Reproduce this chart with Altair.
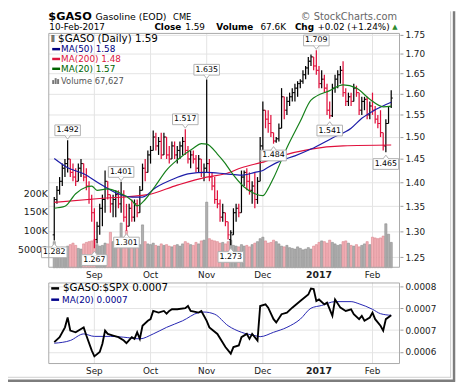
import altair as alt
import pandas as pd

# ---------------- data ----------------
HOLIDAYS = ["2016-09-05", "2016-11-24", "2016-12-26", "2017-01-02", "2017-01-16"]
DATES = [d for d in pd.bdate_range("2016-08-11", "2017-02-10")
         if d.strftime("%Y-%m-%d") not in HOLIDAYS]

OPEN = [1.293,1.364,1.383,1.402,1.430,1.440,1.450,1.421,1.411,1.402,
        1.430,1.440,1.411,1.392,1.364,1.337,1.284,1.310,1.346,1.364,
        1.402,1.374,1.355,1.364,1.374,1.355,1.374,1.328,1.310,1.346,
        1.328,1.355,1.337,1.383,1.430,1.421,1.459,1.469,1.499,1.479,
        1.489,1.459,1.499,1.459,1.450,1.479,1.459,1.469,1.479,1.489,
        1.469,1.450,1.459,1.450,1.430,1.450,1.421,1.430,1.440,1.411,
        1.392,1.364,1.355,1.328,1.337,1.319,1.284,1.293,1.337,1.346,
        1.337,1.411,1.421,1.402,1.383,1.392,1.364,1.402,1.479,1.561,
        1.540,1.530,1.509,1.490,1.495,1.519,1.593,1.561,1.582,1.593,
        1.603,1.614,1.625,1.631,1.647,1.664,1.681,1.692,1.669,1.658,
        1.625,1.636,1.614,1.561,1.548,1.614,1.636,1.647,1.658,1.603,
        1.582,1.593,1.582,1.614,1.603,1.561,1.582,1.587,1.550,1.571,
        1.561,1.540,1.530,1.509,1.479,1.530,1.570]
HIGH = [1.369,1.392,1.411,1.440,1.450,1.492,1.450,1.440,1.430,1.440,
        1.450,1.440,1.430,1.402,1.374,1.346,1.319,1.355,1.374,1.425,
        1.402,1.374,1.374,1.383,1.383,1.401,1.383,1.355,1.355,1.364,
        1.364,1.364,1.392,1.440,1.450,1.469,1.479,1.514,1.509,1.499,
        1.509,1.509,1.499,1.479,1.489,1.489,1.479,1.489,1.499,1.517,
        1.479,1.469,1.469,1.459,1.459,1.450,1.440,1.635,1.450,1.421,
        1.411,1.383,1.364,1.355,1.337,1.319,1.302,1.346,1.355,1.355,
        1.425,1.425,1.430,1.421,1.402,1.421,1.411,1.499,1.582,1.561,
        1.561,1.550,1.509,1.499,1.530,1.614,1.593,1.593,1.603,1.614,
        1.625,1.631,1.636,1.658,1.669,1.692,1.698,1.692,1.709,1.669,
        1.658,1.647,1.625,1.582,1.625,1.647,1.658,1.669,1.681,1.614,
        1.603,1.603,1.625,1.620,1.603,1.593,1.593,1.593,1.582,1.603,
        1.571,1.550,1.561,1.509,1.540,1.571,1.609]
LOW = [1.282,1.355,1.374,1.392,1.411,1.421,1.411,1.402,1.392,1.402,
       1.411,1.402,1.383,1.355,1.319,1.267,1.276,1.293,1.310,1.337,
       1.364,1.337,1.328,1.328,1.346,1.337,1.319,1.301,1.310,1.319,
       1.319,1.328,1.337,1.383,1.402,1.421,1.440,1.469,1.469,1.459,
       1.450,1.459,1.450,1.440,1.450,1.450,1.440,1.450,1.459,1.459,
       1.440,1.430,1.440,1.421,1.421,1.411,1.402,1.421,1.402,1.383,
       1.355,1.346,1.319,1.319,1.310,1.284,1.273,1.293,1.319,1.328,
       1.337,1.392,1.383,1.374,1.355,1.346,1.355,1.402,1.469,1.519,
       1.509,1.499,1.484,1.486,1.489,1.519,1.540,1.550,1.571,1.582,
       1.582,1.593,1.614,1.625,1.636,1.647,1.669,1.658,1.647,1.614,
       1.614,1.603,1.550,1.541,1.545,1.603,1.614,1.625,1.593,1.571,
       1.571,1.571,1.582,1.593,1.550,1.550,1.561,1.540,1.540,1.550,
       1.530,1.519,1.499,1.469,1.465,1.530,1.566]
CLOSE = [1.364,1.383,1.402,1.430,1.440,1.450,1.421,1.411,1.402,1.430,
         1.440,1.411,1.392,1.364,1.337,1.284,1.310,1.346,1.364,1.402,
         1.374,1.355,1.364,1.374,1.355,1.374,1.328,1.310,1.346,1.328,
         1.355,1.337,1.383,1.430,1.421,1.459,1.469,1.499,1.479,1.489,
         1.459,1.499,1.459,1.450,1.479,1.459,1.469,1.479,1.489,1.469,
         1.450,1.459,1.450,1.430,1.450,1.421,1.430,1.440,1.411,1.392,
         1.364,1.355,1.328,1.337,1.319,1.293,1.297,1.337,1.346,1.337,
         1.411,1.421,1.402,1.383,1.392,1.364,1.402,1.479,1.561,1.540,
         1.530,1.509,1.490,1.495,1.519,1.593,1.561,1.582,1.593,1.603,
         1.614,1.625,1.631,1.647,1.664,1.681,1.692,1.669,1.658,1.625,
         1.636,1.614,1.561,1.548,1.614,1.636,1.647,1.658,1.603,1.582,
         1.593,1.582,1.614,1.603,1.561,1.582,1.587,1.550,1.571,1.561,
         1.540,1.530,1.509,1.479,1.530,1.570,1.590]
VOLUME_K = [70,52,48,55,50,58,62,66,60,52,50,64,68,70,72,
            75,62,58,60,66,64,95,70,78,72,120,80,100,60,58,55,60,62,115,70,64,
            62,66,60,58,64,60,62,58,56,60,62,58,64,70,66,62,60,68,64,72,74,
            176,
            78,74,72,70,66,68,64,70,74,60,58,56,62,58,60,56,62,66,70,78,
            82,72,66,68,74,70,64,58,56,60,54,52,50,56,52,48,50,54,50,58,62,
            68,72,70,66,74,68,64,60,62,70,72,66,60,58,62,56,60,64,70,62,82,80,78,80,85,118,90,68]

MA50_DAY = [0,5,11,17,23,29,33,38,45,50,57,64,70,75,78,80,85,90,96,104,111,115,120,126]
MA50_VAL = [1.451,1.431,1.418,1.397,1.378,1.369,1.369,1.389,1.408,1.418,1.421,1.418,
            1.415,1.421,1.425,1.432,1.447,1.457,1.472,1.497,1.519,1.542,1.562,1.580]
MA200_DAY = [0,17,35,46,57,64,70,79,85,96,108,126]
MA200_VAL = [1.358,1.366,1.374,1.394,1.411,1.418,1.431,1.445,1.457,1.472,1.479,1.481]
MA20_DAY = [0,4,8,12,14,16,20,24,29,31,34,38,42,46,52,55,57,61,64,66,71,75,78,80,82,
            87,92,96,103,108,113,118,123,126]
MA20_VAL = [1.346,1.350,1.376,1.390,1.392,1.383,1.386,1.379,1.362,1.351,1.364,1.394,1.426,
            1.448,1.474,1.484,1.483,1.461,1.440,1.423,1.390,1.376,1.372,1.387,1.409,
            1.475,1.535,1.585,1.608,1.622,1.614,1.587,1.569,1.570]

ANN_DAY = [0,5,15,25,27,49,57,66,82,98,103,124]
ANN_VAL = [1.282,1.492,1.267,1.401,1.301,1.517,1.635,1.273,1.484,1.709,1.541,1.465]
ANN_SIDE = ["low","high","low","high","low","high","high","low","low","high","low","low"]

RATIO_DAY = [0,2,4,5,6,8,10,11,12,14,15,17,18,19,20,22,24,26,27,29,30,31,32,33,35,36,37,39,
             41,42,43,44,46,49,50,51,54,55,57,58,61,64,66,67,69,70,72,73,74,76,77,79,80,82,
             83,85,87,89,92,95,96,97,98,99,101,102,104,105,107,109,111,112,114,115,116,118,
             119,120,122,123,124,126]
RATIO_E6 = [658,667,685,703,679,676,682,685,670,643,632,640,655,679,673,670,667,661,656,667,
            664,676,664,688,697,700,715,712,715,710,715,718,718,720,724,715,712,715,697,685,
            673,649,637,649,652,667,673,664,673,661,724,727,721,700,694,709,712,721,733,745,
            756,755,733,736,727,730,706,736,721,715,718,709,700,706,697,703,712,700,688,679,
            700,707]
RMA_DAY = [0,6,11,15,21,26,32,37,42,48,54,56,60,65,70,75,77,82,87,92,96,100,105,111,114,119,122,126]
RMA_E6 = [656,661,673,668.5,668.5,667,664,673,685,697,712,713,709,688,676,670,668,676,685,700,
          720,725,732,732,728,718,710,707]

PRICE_TICKS = [1.25,1.30,1.35,1.40,1.45,1.50,1.55,1.60,1.65,1.70,1.75]
VOL_TICKS = [50000,100000,150000,200000]
RATIO_TICKS = [0.00064,0.00068,0.00072,0.00076]

# ---------------- tables ----------------
RED = "#e0103c"
n = len(DATES)
up = [True] + [CLOSE[k] >= CLOSE[k - 1] for k in range(1, n)]
df = pd.DataFrame({"i": list(range(n)), "O": OPEN, "H": HIGH, "L": LOW, "C": CLOSE,
                   "vol": [v * 1000 for v in VOLUME_K]})
df["pc"] = ["#000000" if u else RED for u in up]
df["vf"] = ["#b0b0b0" if u else "#f3b2b8" for u in up]
df["vs"] = ["#8a8a8a" if u else "#d9838c" for u in up]

mi, ml, mb = [], [], []
for k in range(1, n):
    if DATES[k].month != DATES[k - 1].month:
        mi.append(k)
        ml.append(str(DATES[k].year) if DATES[k].month == 1 else DATES[k].strftime("%b"))
        mb.append(DATES[k].month == 1)
months = pd.DataFrame({"i": mi, "lab": ml, "bold": mb})

ma50 = pd.DataFrame({"i": MA50_DAY, "v": MA50_VAL})
ma200 = pd.DataFrame({"i": MA200_DAY, "v": MA200_VAL})
ma20 = pd.DataFrame({"i": MA20_DAY, "v": MA20_VAL})
ann = pd.DataFrame({"i": ANN_DAY, "v": ANN_VAL, "side": ANN_SIDE,
                    "t": [f"{v:.3f}" for v in ANN_VAL]})
ratio = pd.DataFrame({"i": RATIO_DAY, "v": [r * 1e-6 for r in RATIO_E6]})
rma = pd.DataFrame({"i": RMA_DAY, "v": [r * 1e-6 for r in RMA_E6]})

# ---------------- geometry ----------------
W, HT = 358, 239
B0, B1 = 254, 337
FONT = "DejaVu Sans"

xs = alt.Scale(domain=[-0.4, 127.45], nice=False, zero=False)
X = alt.X("i:Q", scale=xs, axis=None)
pscale = alt.Scale(type="log", domain=[1.2303, 1.7544], range=[HT, 0], nice=False)
vscale = alt.Scale(domain=[0, 630000], range=[HT, 0], nice=False, zero=True)
rscale = alt.Scale(domain=[0.000618, 0.000767], range=[B1, B0], nice=False, zero=False)

price_axis = alt.Axis(orient="right", values=PRICE_TICKS, format=".2f", grid=True,
                      gridColor="#e3e3e3", tickSize=3, tickColor="#999", domain=False,
                      labelFont=FONT, labelFontSize=9, labelColor="#222", labelPadding=2,
                      title=None)
vol_axis = alt.Axis(orient="left", values=VOL_TICKS, grid=False, ticks=False, domain=False,
                    labelExpr="datum.value == 50000 ? '50000' : (datum.value/1000) + 'K'",
                    labelFont=FONT, labelFontSize=9.5, labelColor="#222", labelPadding=1,
                    title=None)
ratio_axis = alt.Axis(orient="right", values=RATIO_TICKS, format=".4f", grid=True,
                      gridColor="#e3e3e3", tickSize=3, tickColor="#999", domain=False,
                      labelFont=FONT, labelFontSize=9, labelColor="#222", labelPadding=2,
                      title=None)

_uid = [0]


def one():
    _uid[0] += 1
    return pd.DataFrame({"k": [_uid[0]]})


def txt(s, x, y, size=9, color="#000", weight="normal", baseline="middle", align="left"):
    return alt.Chart(one()).mark_text(text=s, font=FONT, fontSize=size, color=color,
                                      fontWeight=weight, baseline=baseline, align=align,
                                      x=x, y=y).encode()


def hrule(x1, x2, y, color, w=1.0):
    return alt.Chart(one()).mark_rule(color=color, strokeWidth=w).encode(
        x=alt.value(x1), x2=alt.value(x2), y=alt.value(y))


def vrule(x, y1, y2, color, w=1.0):
    return alt.Chart(one()).mark_rule(color=color, strokeWidth=w).encode(
        x=alt.value(x), y=alt.value(y1), y2=alt.value(y2))


def frame(y1, y2):
    return alt.Chart(one()).mark_rect(filled=False, stroke="#a9a9a9", strokeWidth=1).encode(
        x=alt.value(0.5), x2=alt.value(W - 0.5), y=alt.value(y1 + 0.5), y2=alt.value(y2 - 0.5))


layers = []

# month grid lines
layers.append(alt.Chart(months).mark_rule(color="#e3e3e3", strokeWidth=1).encode(
    x=X, y=alt.value(0), y2=alt.value(HT)))
layers.append(alt.Chart(months).mark_rule(color="#e3e3e3", strokeWidth=1).encode(
    x=X, y=alt.value(B0), y2=alt.value(B1)))

# volume
layers.append(alt.Chart(df).mark_bar(size=2.2, strokeWidth=0.6).encode(
    x=X, y=alt.Y("vol:Q", scale=vscale, axis=vol_axis),
    fill=alt.Fill("vf:N", scale=None), stroke=alt.Stroke("vs:N", scale=None)))

# OHLC bars
layers.append(alt.Chart(df).mark_rule(strokeWidth=1.25).encode(
    x=X, y=alt.Y("L:Q", scale=pscale, axis=price_axis), y2="H:Q",
    color=alt.Color("pc:N", scale=None)))
layers.append(alt.Chart(df).transform_calculate(io="datum.i - 0.6").mark_rule(strokeWidth=1).encode(
    x=alt.X("io:Q", scale=xs, axis=None), x2="i:Q",
    y=alt.Y("O:Q", scale=pscale, axis=None), color=alt.Color("pc:N", scale=None)))
layers.append(alt.Chart(df).transform_calculate(ic="datum.i + 0.6").mark_rule(strokeWidth=1).encode(
    x=X, x2="ic:Q",
    y=alt.Y("C:Q", scale=pscale, axis=None), color=alt.Color("pc:N", scale=None)))

# moving averages
for d, col in [(ma200, RED), (ma50, "#1c1ca8"), (ma20, "#15801a")]:
    layers.append(alt.Chart(d).mark_line(strokeWidth=1.2, interpolate="monotone", color=col).encode(
        x=X, y=alt.Y("v:Q", scale=pscale, axis=None)))

# annotations: callout box, pointer, value
BOX = "M-1,-0.42L1,-0.42L1,0.42L-1,0.42Z"
PTR = {"high": "M-1,-0.8L0,0.5L1,-0.8", "low": "M-1,0.8L0,-0.5L1,0.8"}
for side, off, poff in [("high", -10, -2.5), ("low", 12, 4.5)]:
    sub = ann[ann.side == side]
    layers.append(alt.Chart(sub).mark_point(shape=BOX, size=676, filled=True, fill="white",
                                            stroke="#b0b0b0", strokeWidth=1, opacity=1,
                                            yOffset=off).encode(
        x=X, y=alt.Y("v:Q", scale=pscale, axis=None)))
    layers.append(alt.Chart(sub).mark_point(shape=PTR[side], size=36, filled=True, fill="white",
                                            stroke="#b0b0b0", strokeWidth=1, opacity=1,
                                            yOffset=poff).encode(
        x=X, y=alt.Y("v:Q", scale=pscale, axis=None)))
    layers.append(alt.Chart(sub).mark_text(font=FONT, fontSize=8, color="#000", dy=off,
                                           baseline="middle").encode(
        x=X, y=alt.Y("v:Q", scale=pscale, axis=None), text="t:N"))

# ratio panel
layers.append(alt.Chart(rma).mark_line(strokeWidth=1, color="#2323b0", interpolate="monotone").encode(
    x=X, y=alt.Y("v:Q", scale=rscale, axis=ratio_axis)))
layers.append(alt.Chart(ratio).mark_line(strokeWidth=1.9, color="#000").encode(
    x=X, y=alt.Y("v:Q", scale=rscale, axis=None)))

# month labels
for yy in [HT + 7, B1 + 7]:
    layers.append(alt.Chart(months).transform_filter("!datum.bold").mark_text(
        font=FONT, fontSize=9, color="#222", baseline="middle").encode(x=X, y=alt.value(yy), text="lab:N"))
    layers.append(alt.Chart(months).transform_filter("datum.bold").mark_text(
        font=FONT, fontSize=9.5, fontWeight="bold", color="#222", baseline="middle").encode(
        x=X, y=alt.value(yy), text="lab:N"))

# frames
layers.append(frame(0, HT))
layers.append(frame(B0, B1))

# legends inside the panels
layers.append(txt("\u2af4", 2.5, 6))
layers.append(txt("$GASO (Daily) 1.59", 10, 6, size=10.5))
layers.append(hrule(4, 12, 16.5, "#000080", 2.5))
layers.append(txt("MA(50) 1.58", 13, 16.5, color="#000080"))
layers.append(hrule(4, 12, 26.5, "#dc143c", 2.5))
layers.append(txt("MA(200) 1.48", 13, 26.5, color="#dc143c"))
layers.append(hrule(4, 12, 36.5, "#006400", 2.5))
layers.append(txt("MA(20) 1.57", 13, 36.5, color="#006400"))
for xx, h in [(5, 4), (7.5, 6), (10, 5)]:
    layers.append(vrule(xx, 52, 52 - h, "#777", 2))
layers.append(txt("Volume 67,627", 13, 48.5, size=8.5, color="#555"))

layers.append(hrule(3, 11, B0 + 6, "#000", 2.5))
layers.append(txt("$GASO:$SPX 0.0007", 15, B0 + 6, size=10.5))
layers.append(hrule(3, 11, B0 + 17.5, "#00008b", 2.5))
layers.append(txt("MA(20) 0.0007", 14, B0 + 17.5, color="#00008b"))

# header
layers.append(txt("$GASO", 0, -13.5, size=11.5, weight="bold", baseline="alphabetic"))
layers.append(txt("Gasoline (EOD)", 48, -13.5, size=9.5, baseline="alphabetic"))
layers.append(txt("CME", 127, -13.5, size=8.5, baseline="alphabetic"))
layers.append(txt("\u00a9 StockCharts.com", 257, -13.5, size=10, color="#666", baseline="alphabetic"))
layers.append(txt("10-Feb-2017", 1, -3.5, baseline="alphabetic"))
layers.append(txt("Close", 108, -3.5, weight="bold", baseline="alphabetic"))
layers.append(txt("1.59", 139.5, -3.5, baseline="alphabetic"))
layers.append(txt("Volume", 171, -3.5, weight="bold", baseline="alphabetic"))
layers.append(txt("67.6K", 216, -3.5, baseline="alphabetic"))
layers.append(txt("Chg", 251, -3.5, weight="bold", baseline="alphabetic"))
layers.append(txt("+0.02 (+1.24%)", 274, -3.5, baseline="alphabetic"))
layers.append(txt("\u25b2", 350, -4, size=7, color="#2e8b2e", baseline="alphabetic"))

# outer drop shadow
layers.append(vrule(409.5, -22, 351, "#cfcfcf", 1))
layers.append(hrule(-41, 410, 350.5, "#cfcfcf", 1))
layers.append(vrule(413, -22, 355, "#7d7d7d", 2.5))
layers.append(hrule(-41, 414, 354, "#7d7d7d", 2.5))

chart = alt.layer(*layers).resolve_scale(y="independent").properties(
    width=W, height=B1,
    padding={"left": 41, "top": 22, "right": 57, "bottom": 20},
    autosize=alt.AutoSizeParams(type="none"),
    background="white",
).configure_view(stroke=None)

chart.save("out.html", embed_options={"renderer": "svg", "actions": False})
